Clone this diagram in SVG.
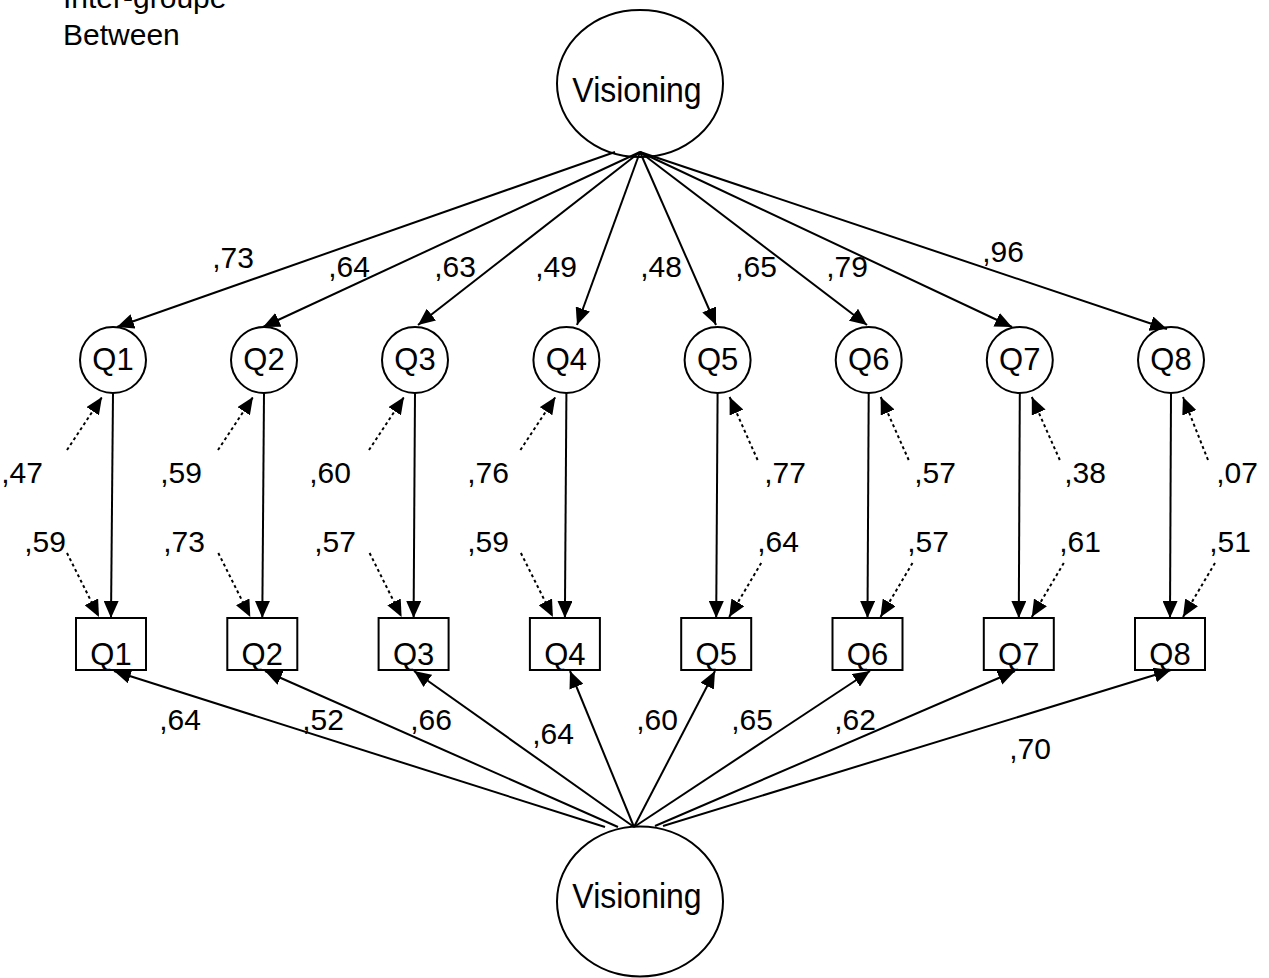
<svg xmlns="http://www.w3.org/2000/svg" width="1269" height="978" viewBox="0 0 1269 978">
<style>
text{font-family:"Liberation Sans",Arial,sans-serif;fill:#000}
.lbl{font-size:30px;text-anchor:middle}
.hdr{font-size:30px}
.big{font-size:32px;text-anchor:middle}
.q{font-size:31px;text-anchor:middle}
.node{fill:#fff;stroke:#000;stroke-width:2}
.s{stroke:#000;stroke-width:2;fill:none;marker-end:url(#ah)}
.d{stroke:#000;stroke-width:2;fill:none;stroke-dasharray:3 3;marker-end:url(#ah)}
</style>
<defs>
<marker id="ah" viewBox="0 0 17 15" refX="17" refY="7.5" markerWidth="17" markerHeight="15" markerUnits="userSpaceOnUse" orient="auto">
<path d="M0,0 L17,7.5 L0,15 z" fill="#000"/>
</marker>
</defs>
<rect width="1269" height="978" fill="#fff"/>
<g id="title">
<text class="hdr" x="63" y="8">Inter-groupe</text>
<text class="hdr" x="63" y="45">Between</text>
</g>
<g id="vis-top"><ellipse class="node" cx="640" cy="83.5" rx="83" ry="73.5"/><text class="big" x="637" y="102" transform="translate(0,-10.2) scale(1,1.1)">Visioning</text></g>
<g id="vis-bottom"><ellipse class="node" cx="640" cy="901.5" rx="83" ry="75"/><text class="big" x="637" y="908" transform="translate(0,-90.8) scale(1,1.1)">Visioning</text></g>
<g id="latent">
<g id="c1"><circle class="node" cx="113" cy="360" r="33"/><text class="q" x="113" y="370">Q1</text></g>
<g id="c2"><circle class="node" cx="264" cy="360" r="33"/><text class="q" x="264" y="370">Q2</text></g>
<g id="c3"><circle class="node" cx="415" cy="360" r="33"/><text class="q" x="415" y="370">Q3</text></g>
<g id="c4"><circle class="node" cx="566.4" cy="360" r="33"/><text class="q" x="566.4" y="370">Q4</text></g>
<g id="c5"><circle class="node" cx="717.6" cy="360" r="33"/><text class="q" x="717.6" y="370">Q5</text></g>
<g id="c6"><circle class="node" cx="868.7" cy="360" r="33"/><text class="q" x="868.7" y="370">Q6</text></g>
<g id="c7"><circle class="node" cx="1019.8" cy="360" r="33"/><text class="q" x="1019.8" y="370">Q7</text></g>
<g id="c8"><circle class="node" cx="1171" cy="360" r="33"/><text class="q" x="1171" y="370">Q8</text></g>
</g>
<g id="observed">
<g id="b1"><rect class="node" x="76" y="618" width="70" height="52"/><text class="q" x="111" y="665">Q1</text></g>
<g id="b2"><rect class="node" x="227.3" y="618" width="70" height="52"/><text class="q" x="262.3" y="665">Q2</text></g>
<g id="b3"><rect class="node" x="378.6" y="618" width="70" height="52"/><text class="q" x="413.6" y="665">Q3</text></g>
<g id="b4"><rect class="node" x="529.9" y="618" width="70" height="52"/><text class="q" x="564.9" y="665">Q4</text></g>
<g id="b5"><rect class="node" x="681.2" y="618" width="70" height="52"/><text class="q" x="716.2" y="665">Q5</text></g>
<g id="b6"><rect class="node" x="832.5" y="618" width="70" height="52"/><text class="q" x="867.5" y="665">Q6</text></g>
<g id="b7"><rect class="node" x="983.8" y="618" width="70" height="52"/><text class="q" x="1018.8" y="665">Q7</text></g>
<g id="b8"><rect class="node" x="1135" y="618" width="70" height="52"/><text class="q" x="1170" y="665">Q8</text></g>
</g>
<g id="connectors">
<line class="s" x1="615" y1="152" x2="117" y2="327"/>
<line class="s" x1="640" y1="152" x2="263" y2="327"/>
<line class="s" x1="640" y1="152" x2="418" y2="325"/>
<line class="s" x1="640" y1="152" x2="577" y2="325"/>
<line class="s" x1="640" y1="152" x2="716" y2="325"/>
<line class="s" x1="640" y1="152" x2="867" y2="325"/>
<line class="s" x1="640" y1="152" x2="1012" y2="327"/>
<line class="s" x1="640" y1="152" x2="1167" y2="329"/>
<line class="s" x1="113" y1="393" x2="111" y2="618"/>
<line class="s" x1="264" y1="393" x2="262.3" y2="618"/>
<line class="s" x1="415" y1="393" x2="413.6" y2="618"/>
<line class="s" x1="566.4" y1="393" x2="564.9" y2="618"/>
<line class="s" x1="717.6" y1="393" x2="716.2" y2="618"/>
<line class="s" x1="868.7" y1="393" x2="867.5" y2="618"/>
<line class="s" x1="1019.8" y1="393" x2="1018.8" y2="618"/>
<line class="s" x1="1171" y1="393" x2="1170" y2="618"/>
<line class="d" x1="67" y1="450" x2="102" y2="397"/>
<line class="d" x1="218" y1="450" x2="253" y2="397"/>
<line class="d" x1="369" y1="450" x2="404" y2="397"/>
<line class="d" x1="520.4" y1="450" x2="555.4" y2="397"/>
<line class="d" x1="757.6" y1="460" x2="729.6" y2="397"/>
<line class="d" x1="908.7" y1="460" x2="880.7" y2="397"/>
<line class="d" x1="1059.8" y1="460" x2="1031.8" y2="397"/>
<line class="d" x1="1208" y1="460" x2="1183" y2="397"/>
<line class="d" x1="67" y1="553" x2="99" y2="617"/>
<line class="d" x1="218.3" y1="553" x2="250.3" y2="617"/>
<line class="d" x1="369.6" y1="553" x2="401.6" y2="617"/>
<line class="d" x1="520.9" y1="553" x2="552.9" y2="617"/>
<line class="d" x1="761.2" y1="563" x2="729.2" y2="617"/>
<line class="d" x1="912.5" y1="563" x2="880.5" y2="617"/>
<line class="d" x1="1063.8" y1="563" x2="1031.8" y2="617"/>
<line class="d" x1="1215" y1="563" x2="1183" y2="617"/>
<line class="s" x1="605" y1="827" x2="114" y2="671"/>
<line class="s" x1="618" y1="827" x2="265" y2="671"/>
<line class="s" x1="634" y1="827" x2="414" y2="671"/>
<line class="s" x1="634" y1="827" x2="570" y2="671"/>
<line class="s" x1="634" y1="827" x2="715" y2="671"/>
<line class="s" x1="634" y1="827" x2="870" y2="671"/>
<line class="s" x1="655" y1="826" x2="1015" y2="671"/>
<line class="s" x1="663" y1="826" x2="1171" y2="670"/>
</g>
<g id="labels">
<text class="lbl" x="233" y="268">,73</text>
<text class="lbl" x="349" y="277">,64</text>
<text class="lbl" x="455" y="277">,63</text>
<text class="lbl" x="556" y="277">,49</text>
<text class="lbl" x="661" y="277">,48</text>
<text class="lbl" x="756" y="277">,65</text>
<text class="lbl" x="847" y="277">,79</text>
<text class="lbl" x="1003" y="262">,96</text>
<text class="lbl" x="22" y="483">,47</text>
<text class="lbl" x="181" y="483">,59</text>
<text class="lbl" x="330" y="483">,60</text>
<text class="lbl" x="488" y="483">,76</text>
<text class="lbl" x="785" y="483">,77</text>
<text class="lbl" x="935" y="483">,57</text>
<text class="lbl" x="1085" y="483">,38</text>
<text class="lbl" x="1237" y="483">,07</text>
<text class="lbl" x="45" y="552">,59</text>
<text class="lbl" x="184" y="552">,73</text>
<text class="lbl" x="335" y="552">,57</text>
<text class="lbl" x="488" y="552">,59</text>
<text class="lbl" x="778" y="552">,64</text>
<text class="lbl" x="928" y="552">,57</text>
<text class="lbl" x="1080" y="552">,61</text>
<text class="lbl" x="1230" y="552">,51</text>
<text class="lbl" x="180" y="730">,64</text>
<text class="lbl" x="323" y="730">,52</text>
<text class="lbl" x="431" y="730">,66</text>
<text class="lbl" x="553" y="744">,64</text>
<text class="lbl" x="657" y="730">,60</text>
<text class="lbl" x="752" y="730">,65</text>
<text class="lbl" x="855" y="730">,62</text>
<text class="lbl" x="1030" y="759">,70</text>
</g>
</svg>
